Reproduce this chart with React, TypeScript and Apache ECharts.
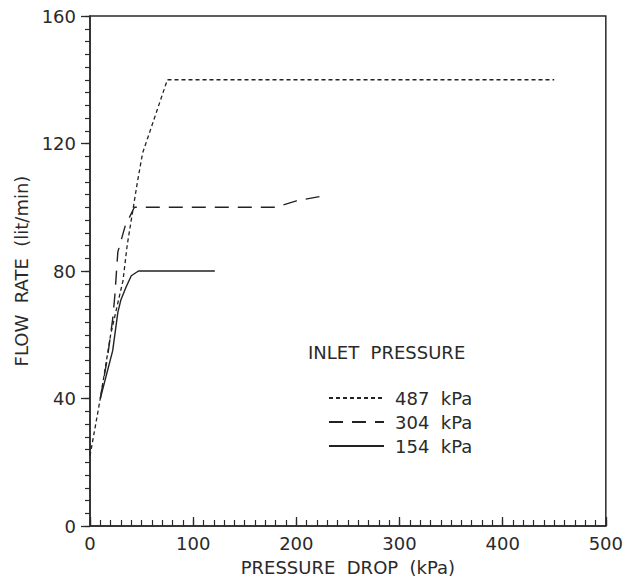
import React, { useEffect, useRef } from "react";
import * as echarts from "echarts";

const xTicks = [0, 100, 200, 300, 400, 500];
const yTicks = [0, 40, 80, 120, 160];

const p487X = [0, 10, 20, 27, 32, 36, 42, 46, 51, 75, 450];
const p487Y = [22, 40, 60, 70, 77, 88, 100, 108, 117, 140, 140];

const p304X = [10, 17, 22, 24, 27, 34, 43, 180, 200, 225];
const p304Y = [40, 53, 65, 72, 86, 94, 100, 100, 102, 103.5];

const p154X = [10, 22, 27, 30, 35, 40, 47, 121];
const p154Y = [40, 55, 67, 71, 75, 78.5, 80, 80];

const seriesNames = ["487  kPa", "304  kPa", "154  kPa"];

const FONT = "DejaVu Sans";
const INK = "#2a2a2a";

function zip(xs: number[], ys: number[]) {
  return xs.map((x, i) => [x, ys[i]]);
}

export default function App() {
  const ref = useRef<HTMLDivElement>(null);
  useEffect(() => {
    if (!ref.current) return;
    const chart = echarts.init(ref.current, undefined, { renderer: "svg" });
    const lineBase = { type: "line", showSymbol: false, symbol: "none", silent: true };
    const xMin = xTicks[0];
    const xMax = xTicks[xTicks.length - 1];
    const yMin = yTicks[0];
    const yMax = yTicks[yTicks.length - 1];
    chart.setOption({
      animation: false,
      backgroundColor: "#fff",
      textStyle: { fontFamily: FONT, color: INK },
      title: {
        text: "INLET  PRESSURE",
        left: 303,
        top: 338,
        textStyle: { fontFamily: FONT, fontSize: 18, fontWeight: "normal", color: INK },
      },
      legend: {
        orient: "vertical",
        left: 323,
        top: 384,
        itemWidth: 55,
        itemHeight: 14,
        itemGap: 6,
        selectedMode: false,
        data: seriesNames,
        itemStyle: { opacity: 0 },
        textStyle: { fontFamily: FONT, fontSize: 18, color: INK, padding: [0, 0, 0, 6] },
      },
      grid: {
        left: 90,
        right: 19,
        top: 16,
        bottom: 53,
        show: true,
        borderColor: INK,
        borderWidth: 1.5,
      },
      xAxis: [
        {
          type: "value",
          min: xMin,
          max: xMax,
          interval: 100,
          name: "PRESSURE  DROP  (kPa)",
          nameLocation: "middle",
          nameGap: 32,
          nameTextStyle: { fontFamily: FONT, fontSize: 18, color: INK },
          axisLine: { show: true, lineStyle: { color: INK, width: 1.5 } },
          axisTick: { show: true, inside: true, length: 9, lineStyle: { color: INK, width: 1.3 } },
          axisLabel: { fontFamily: FONT, fontSize: 18, color: INK, margin: 8 },
          splitLine: { show: false },
        },
        {
          type: "value",
          position: "bottom",
          min: xMin,
          max: xMax,
          interval: 10,
          axisLine: { show: false },
          axisTick: { show: true, inside: true, length: 6, lineStyle: { color: INK, width: 1.2 } },
          axisLabel: { show: false },
          splitLine: { show: false },
        },
      ],
      yAxis: [
        {
          type: "value",
          min: yMin,
          max: yMax,
          interval: 40,
          name: "FLOW  RATE  (lit/min)",
          nameLocation: "middle",
          nameGap: 58,
          nameTextStyle: { fontFamily: FONT, fontSize: 18, color: INK },
          axisLine: { show: true, lineStyle: { color: INK, width: 1.5 } },
          axisTick: { show: true, inside: false, length: 9, lineStyle: { color: INK, width: 1.3 } },
          axisLabel: { fontFamily: FONT, fontSize: 18, color: INK, margin: 14 },
          splitLine: { show: false },
        },
        {
          type: "value",
          position: "left",
          min: yMin,
          max: yMax,
          interval: 4,
          axisLine: { show: false },
          axisTick: { show: true, inside: false, length: 5, lineStyle: { color: INK, width: 1.2 } },
          axisLabel: { show: false },
          splitLine: { show: false },
        },
      ],
      series: [
        {
          ...lineBase,
          name: seriesNames[0],
          data: zip(p487X, p487Y),
          lineStyle: { color: "#222", width: 1.3, type: [4, 3] },
          itemStyle: { color: "#222" },
        },
        {
          ...lineBase,
          name: seriesNames[1],
          data: zip(p304X, p304Y),
          lineStyle: { color: "#222", width: 1.4, type: [14, 9] },
          itemStyle: { color: "#222" },
        },
        {
          ...lineBase,
          name: seriesNames[2],
          data: zip(p154X, p154Y),
          lineStyle: { color: "#222", width: 1.4, type: "solid" },
          itemStyle: { color: "#222" },
        },
      ],
    });
    return () => chart.dispose();
  }, []);
  return <div ref={ref} style={{ width: 626, height: 581, position: "absolute", left: 0, top: 0 }} />;
}
